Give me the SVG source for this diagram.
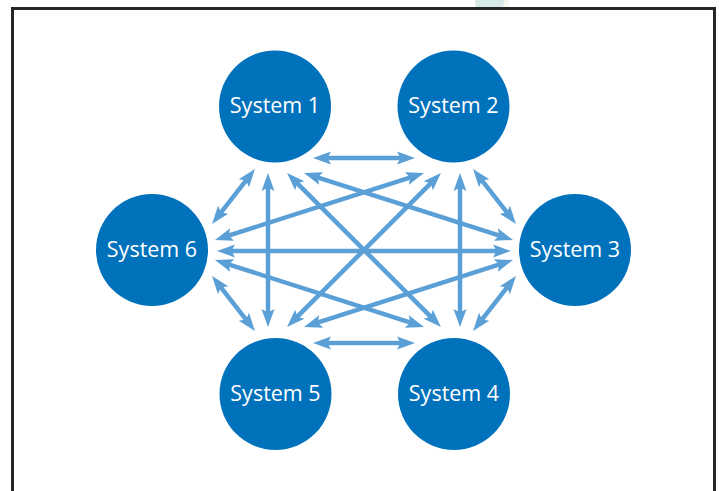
<svg xmlns="http://www.w3.org/2000/svg" width="719" height="491" viewBox="0 0 719 491">
  <style>
    .node circle { fill: #0071bb; }
    .node text { fill: #ffffff; font-family: "Open Sans", "Noto Sans", "Liberation Sans", sans-serif; font-size: 21.5px; text-anchor: middle; }
    .link { stroke: #5b9fd7; stroke-width: 4.5; fill: none; marker-start: url(#head); marker-end: url(#head); }
  </style>
  <defs>
    <marker id="head" markerUnits="userSpaceOnUse" orient="auto-start-reverse" refX="-10" refY="0" markerWidth="20" markerHeight="14" overflow="visible">
      <path d="M0,0 L-18,-6.5 L-14.5,0 L-18,6.5 Z" fill="#5b9fd7"/>
    </marker>
  </defs>

  <rect width="719" height="491" fill="#ffffff"/>
  <!-- faint tab peeking above the frame -->
  <polygon points="475,0 505,0 502,9 476,9" fill="#d7e9e7"/>
  <polygon points="505,0 510,0 507,9 502,9" fill="#f6f3ea"/>
  <!-- frame -->
  <rect x="12.5" y="8.5" width="702" height="500" fill="none" stroke="#262626" stroke-width="3"/>

  <g id="connectors">
    <line class="link" x1="323" y1="158" x2="405" y2="158"/>
    <line class="link" x1="323" y1="343" x2="405" y2="343"/>
    <line class="link" x1="268" y1="183" x2="268" y2="317"/>
    <line class="link" x1="460" y1="183" x2="460" y2="317"/>
    <line class="link" x1="227" y1="251" x2="501" y2="251"/>
    <line class="link" x1="248.8" y1="176.9" x2="218.2" y2="216.1"/>
    <line class="link" x1="479.2" y1="176.9" x2="509.8" y2="216.1"/>
    <line class="link" x1="218.2" y1="283.9" x2="248.8" y2="323.1"/>
    <line class="link" x1="509.8" y1="283.9" x2="479.2" y2="323.1"/>
    <line class="link" x1="294.1" y1="180.1" x2="433.9" y2="319.9"/>
    <line class="link" x1="433.9" y1="180.1" x2="294.1" y2="319.9"/>
    <line class="link" x1="313.5" y1="176.05" x2="503.5" y2="236.95"/>
    <line class="link" x1="414.5" y1="176.05" x2="224.5" y2="236.95"/>
    <line class="link" x1="224.5" y1="263.05" x2="414.5" y2="323.95"/>
    <line class="link" x1="313.5" y1="323.95" x2="503.5" y2="263.05"/>
  </g>

  <g id="system1" class="node">
    <circle cx="275" cy="106.5" r="56"/>
    <text x="275" y="113">System 1</text>
  </g>
  <g id="system2" class="node">
    <circle cx="453.5" cy="106.5" r="56"/>
    <text x="453.5" y="113">System 2</text>
  </g>
  <g id="system3" class="node">
    <circle cx="575" cy="250" r="56"/>
    <text x="575" y="256.5">System 3</text>
  </g>
  <g id="system4" class="node">
    <circle cx="454" cy="394" r="56"/>
    <text x="454" y="400.5">System 4</text>
  </g>
  <g id="system5" class="node">
    <circle cx="275.5" cy="394" r="56"/>
    <text x="275.5" y="400.5">System 5</text>
  </g>
  <g id="system6" class="node">
    <circle cx="152" cy="250" r="56"/>
    <text x="152" y="256.5">System 6</text>
  </g>
</svg>
